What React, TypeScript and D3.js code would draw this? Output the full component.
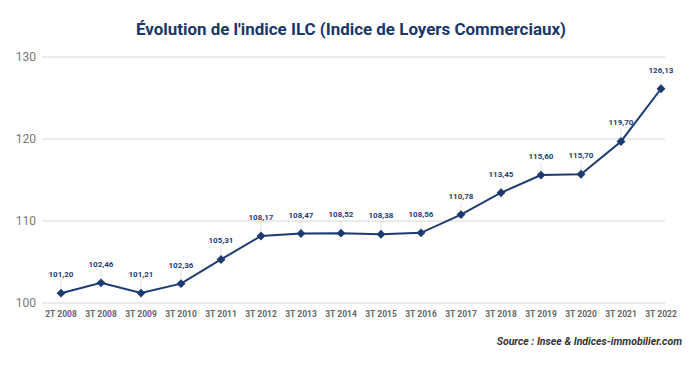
import React, { useRef, useEffect } from "react";
import * as d3 from "d3";

const periods = [
	"2T 2008", "3T 2008", "3T 2009", "3T 2010", "3T 2011", "3T 2012", "3T 2013", "3T 2014",
	"3T 2015", "3T 2016", "3T 2017", "3T 2018", "3T 2019", "3T 2020", "3T 2021", "3T 2022",
];
const ilcValues = [
	101.2, 102.46, 101.21, 102.36, 105.31, 108.17, 108.47, 108.52,
	108.38, 108.56, 110.78, 113.45, 115.6, 115.7, 119.7, 126.13,
];
const yTicks = [100, 110, 120, 130];

const App = () => {
	const chartRef = useRef<SVGSVGElement>(null);

	useEffect(() => {
		const width = 700;
		const height = 365;
		const navy = "#1c3b73";

		d3.select(chartRef.current).selectAll("*").remove();
		const svg = d3.select(chartRef.current).attr("width", width).attr("height", height);

		svg.append("rect").attr("width", width).attr("height", height).attr("fill", "#fff");

		// Title
		svg.append("text")
			.attr("x", 351)
			.attr("y", 35)
			.attr("text-anchor", "middle")
			.attr("font-family", "Roboto, sans-serif")
			.attr("font-weight", "bold")
			.attr("font-size", 17)
			.attr("fill", "#19376a")
			.attr("textLength", 430)
			.attr("lengthAdjust", "spacingAndGlyphs")
			.text("Évolution de l'indice ILC (Indice de Loyers Commerciaux)");

		const xScale = d3.scalePoint<string>().domain(periods).range([61, 661]);
		const yScale = d3.scaleLinear().domain([100, 130]).range([303, 57]);

		// Grid lines
		svg.append("g")
			.selectAll("line")
			.data(yTicks)
			.enter()
			.append("line")
			.attr("x1", 42)
			.attr("x2", 665)
			.attr("y1", d => yScale(d))
			.attr("y2", d => yScale(d))
			.attr("stroke", "#d6d6d6")
			.attr("stroke-width", 1);

		// Y labels
		svg.append("g")
			.selectAll("text")
			.data(yTicks)
			.enter()
			.append("text")
			.attr("x", 36)
			.attr("y", d => yScale(d) + 4)
			.attr("text-anchor", "end")
			.attr("font-family", "Roboto, sans-serif")
			.attr("font-size", 12)
			.attr("fill", "#777")
			.text(d => d);

		// X labels
		svg.append("g")
			.selectAll("text")
			.data(periods)
			.enter()
			.append("text")
			.attr("x", d => xScale(d)!)
			.attr("y", 317)
			.attr("text-anchor", "middle")
			.attr("font-family", "Roboto, sans-serif")
			.attr("font-weight", "bold")
			.attr("font-size", 8.5)
			.attr("fill", "#666")
			.text(d => d);

		const points = periods.map((p, i) => ({ p, v: ilcValues[i] }));

		// Leader lines
		svg.append("g")
			.selectAll("line")
			.data(points)
			.enter()
			.append("line")
			.attr("x1", d => xScale(d.p)!)
			.attr("x2", d => xScale(d.p)!)
			.attr("y1", d => yScale(d.v) - 13)
			.attr("y2", d => yScale(d.v) - 4)
			.attr("stroke", "#e2e2e2")
			.attr("stroke-width", 1);

		const line = d3.line<{ p: string; v: number }>()
			.x(d => xScale(d.p)!)
			.y(d => yScale(d.v));

		svg.append("path")
			.datum(points)
			.attr("d", line)
			.attr("fill", "none")
			.attr("stroke", navy)
			.attr("stroke-width", 2);

		const diamond = d3.symbol().type(d3.symbolDiamond2).size(50);
		svg.append("g")
			.selectAll("path")
			.data(points)
			.enter()
			.append("path")
			.attr("d", diamond)
			.attr("transform", d => `translate(${xScale(d.p)}, ${yScale(d.v)})`)
			.attr("fill", navy);

		// Value labels
		svg.append("g")
			.selectAll("text")
			.data(points)
			.enter()
			.append("text")
			.attr("x", d => xScale(d.p)!)
			.attr("y", d => yScale(d.v) - 16)
			.attr("text-anchor", "middle")
			.attr("font-family", "Roboto, sans-serif")
			.attr("font-weight", "bold")
			.attr("font-size", 8)
			.attr("fill", "#1f3d70")
			.text(d => d.v.toFixed(2).replace(".", ","));

		// Source
		svg.append("text")
			.attr("x", 682)
			.attr("y", 345)
			.attr("text-anchor", "end")
			.attr("font-family", "Roboto, sans-serif")
			.attr("font-weight", "bold")
			.attr("font-style", "italic")
			.attr("font-size", 10.5)
			.attr("fill", "#333")
			.text("Source : Insee & Indices-immobilier.com");
	}, []);

	return <svg ref={chartRef} style={{ position: "absolute", left: 0, top: 0 }}></svg>;
};

export default App;
